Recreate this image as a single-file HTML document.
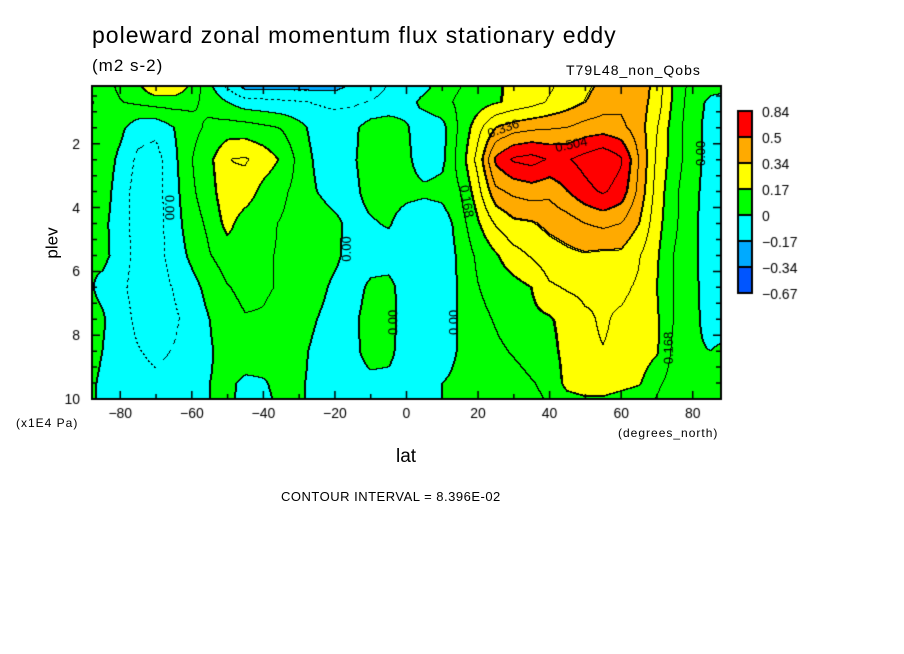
<!DOCTYPE html>
<html><head><meta charset="utf-8">
<style>
body{margin:0;background:#fff;}
#wrap{position:relative;width:904px;height:654px;overflow:hidden;background:#fff;font-family:"Liberation Sans",sans-serif;color:#000;}
.t{position:absolute;white-space:nowrap;}
canvas{position:absolute;left:0;top:0;}
</style></head>
<body>
<div id="wrap">
<canvas id="cv" width="904" height="654"></canvas>
<div class="t" style="left:92px;top:22px;font-size:23px;letter-spacing:1px">poleward zonal momentum flux stationary eddy</div>
<div class="t" style="left:92px;top:56px;font-size:17px;letter-spacing:1px">(m2 s-2)</div>
<div class="t" style="left:566px;top:62px;font-size:14px;letter-spacing:1px">T79L48_non_Qobs</div>
<div class="t" style="left:37px;top:233px;font-size:17px;transform:rotate(-90deg);transform-origin:center">plev</div>
<div class="t" style="left:16px;top:416px;font-size:12px;letter-spacing:1px">(x1E4 Pa)</div>
<div class="t" style="left:618px;top:426px;font-size:12px;letter-spacing:1px">(degrees_north)</div>
<div class="t" style="left:396px;top:446px;font-size:19px">lat</div>
<div class="t" style="left:281px;top:489px;font-size:13px;letter-spacing:0.5px">CONTOUR INTERVAL = 8.396E-02</div>
</div>
<script>
// latitude columns (deg north) and pressure rows (x1E4 Pa)
const lats = [-90,-85,-80,-75,-70,-65,-60,-55,-50,-45,-40,-35,-30,-25,-20,-15,-10,-5,0,5,10,15,20,25,30,35,40,45,50,55,60,65,70,75,80,85,90];
const plevs = [0.2,0.7,1.5,2.5,3.5,4.5,5.5,6.5,7.5,8.5,9.5,10];
const row0 = [0.05,0.05,0.1,0.15,0.25,0.25,0.15,0.02,-0.1,-0.2,-0.2,-0.2,-0.2,-0.2,-0.2,-0.15,-0.12,-0.08,-0.05,-0.03,0.05,0.08,0.12,0.15,0.2,0.22,0.24,0.28,0.32,0.36,0.4,0.4,0.3,0.15,0.05,0.03,0.02];
const row1 = [-0.03,0.03,0.08,0.1,0.12,0.12,0.1,0.06,0.0,-0.05,-0.06,-0.07,-0.08,-0.09,-0.1,-0.1,-0.08,-0.06,-0.04,0.03,0.06,0.1,0.13,0.16,0.19,0.22,0.26,0.3,0.34,0.38,0.4,0.38,0.3,0.14,0.04,-0.02,-0.03];
const row2 = [0.05,0.06,0.02,-0.05,-0.06,0.0,0.06,0.1,0.12,0.12,0.1,0.08,0.03,-0.04,-0.05,-0.02,0.04,0.05,0.01,-0.06,-0.03,0.1,0.22,0.34,0.38,0.4,0.41,0.42,0.45,0.46,0.44,0.38,0.26,0.12,0.04,-0.04,-0.05];
const row3 = [0.05,0.05,-0.02,-0.1,-0.12,-0.02,0.08,0.15,0.25,0.26,0.22,0.16,0.06,-0.02,-0.05,-0.01,0.04,0.05,0.02,-0.05,-0.02,0.12,0.28,0.52,0.6,0.62,0.58,0.58,0.62,0.66,0.6,0.42,0.24,0.12,0.04,-0.04,-0.05];
const row4 = [0.03,0.04,-0.04,-0.12,-0.12,-0.03,0.07,0.13,0.24,0.22,0.14,0.1,0.06,0.0,-0.04,-0.02,0.03,0.04,0.03,0.02,0.03,0.08,0.22,0.4,0.44,0.46,0.44,0.5,0.56,0.6,0.55,0.4,0.22,0.1,0.03,-0.05,-0.06];
const row5 = [0.02,0.02,-0.04,-0.12,-0.12,-0.04,0.05,0.1,0.2,0.12,0.1,0.08,0.06,0.05,0.02,-0.03,-0.01,0.01,-0.05,-0.07,-0.05,0.04,0.16,0.26,0.32,0.33,0.36,0.38,0.42,0.44,0.42,0.34,0.2,0.1,0.02,-0.05,-0.06];
const row6 = [0.0,0.02,-0.03,-0.12,-0.12,-0.05,0.02,0.08,0.12,0.1,0.09,0.08,0.07,0.05,0.02,-0.04,-0.05,-0.05,-0.06,-0.08,-0.06,0.02,0.1,0.16,0.22,0.26,0.3,0.32,0.33,0.32,0.32,0.26,0.18,0.08,0.02,-0.05,-0.06];
const row7 = [0.02,-0.02,-0.06,-0.12,-0.12,-0.08,-0.03,0.03,0.08,0.1,0.09,0.08,0.06,0.03,-0.02,-0.04,0.02,0.03,-0.05,-0.07,-0.05,0.01,0.08,0.12,0.14,0.17,0.24,0.26,0.27,0.26,0.27,0.24,0.17,0.08,0.02,-0.04,-0.05];
const row8 = [0.03,0.01,-0.05,-0.1,-0.12,-0.1,-0.05,0.0,0.06,0.08,0.08,0.07,0.04,0.0,-0.04,-0.02,0.04,0.03,-0.04,-0.06,-0.04,0.01,0.06,0.09,0.12,0.15,0.16,0.2,0.24,0.26,0.24,0.22,0.18,0.08,0.02,-0.03,-0.04];
const row9 = [0.03,0.0,-0.05,-0.08,-0.1,-0.08,-0.05,-0.01,0.04,0.06,0.06,0.05,0.02,-0.02,-0.04,-0.02,0.03,0.02,-0.04,-0.06,-0.04,0.01,0.05,0.07,0.09,0.11,0.14,0.2,0.24,0.25,0.24,0.22,0.18,0.06,0.01,0.0,0.02];
const row10 = [0.02,-0.01,-0.04,-0.06,-0.07,-0.06,-0.04,0.0,0.02,-0.02,-0.01,0.03,0.01,-0.02,-0.04,-0.03,-0.02,-0.02,-0.03,-0.03,0.0,0.02,0.04,0.05,0.06,0.08,0.1,0.2,0.22,0.22,0.2,0.18,0.1,0.05,0.02,0.02,0.02];
const row11 = [0.02,-0.01,-0.04,-0.05,-0.06,-0.05,-0.03,0.0,0.02,-0.03,-0.02,0.02,0.01,-0.02,-0.04,-0.03,-0.03,-0.03,-0.03,-0.03,0.0,0.02,0.03,0.04,0.05,0.07,0.09,0.14,0.16,0.16,0.14,0.12,0.08,0.04,0.02,0.02,0.02];
const grid = [row0,row1,row2,row3,row4,row5,row6,row7,row8,row9,row10,row11];
const levels = [-0.67,-0.34,-0.17,0,0.17,0.34,0.5,0.84];
const levelLabels = ["0.84","0.5","0.34","0.17","0","\u22120.17","\u22120.34","\u22120.67"];
const xTicks = [-80,-60,-40,-20,0,20,40,60,80];
const yTicks = [2,4,6,8,10];
const colors = ["#0055ff","#00aaff","#00ffff","#00ff00","#ffff00","#ffaa00","#ff0000"];
const interval = 0.08396;

const X0=92,X1=721,Y0=86,Y1=399;
const latMin=-87.9,latMax=87.9,pMin=0.19,pMax=10;
const xScale = l => X0+(l-latMin)/(latMax-latMin)*(X1-X0);
const yScale = p => Y0+(p-pMin)/(pMax-pMin)*(Y1-Y0);
const xInv = x => latMin+(x-X0)/(X1-X0)*(latMax-latMin);
const yInv = y => pMin+(y-Y0)/(Y1-Y0)*(pMax-pMin);

function sample(lat,p){
  let i=(lat-lats[0])/(lats[1]-lats[0]); i=Math.max(0,Math.min(lats.length-1.0001,i));
  let j=0; while(j<plevs.length-2 && p>plevs[j+1]) j++;
  let fy=(p-plevs[j])/(plevs[j+1]-plevs[j]); fy=Math.max(0,Math.min(1,fy));
  const i0=Math.floor(i), fx=i-i0;
  const a=grid[j][i0]*(1-fx)+grid[j][i0+1]*fx;
  const b=grid[j+1][i0]*(1-fx)+grid[j+1][i0+1]*fx;
  return a*(1-fy)+b*fy;
}
function cls(v){ let k=0; for(let n=1;n<levels.length-1;n++){ if(v>=levels[n]) k=n; } return k; }

const cv=document.getElementById('cv'), ctx=cv.getContext('2d');
const W=X1-X0, H=Y1-Y0;
const img=ctx.createImageData(W,H);
const V=[],C=[],K=[];
for(let y=0;y<H;y++){ for(let x=0;x<W;x++){ const v=sample(xInv(X0+x+0.5),yInv(Y0+y+0.5)); V.push(v); C.push(cls(v)); K.push(Math.floor(v/interval)); } }
function hex(h){return [parseInt(h.substr(1,2),16),parseInt(h.substr(3,2),16),parseInt(h.substr(5,2),16)];}
const rgb=colors.map(hex);
for(let y=0;y<H;y++){ for(let x=0;x<W;x++){
  const idx=y*W+x; let c=rgb[C[idx]];
  const r=x<W-1?idx+1:idx, d=y<H-1?idx+W:idx;
  if(C[idx]!==C[r]||C[idx]!==C[d]) c=[0,0,0];
  else if(x>0&&C[idx]!==C[idx-1]) c=[0,0,0];
  else if(K[idx]!==K[r]||K[idx]!==K[d]) { if(V[idx]>=0 || ((x+y)%6)<3) c=[0,0,0]; }
  const o=idx*4; img.data[o]=c[0];img.data[o+1]=c[1];img.data[o+2]=c[2];img.data[o+3]=255;
}}
ctx.putImageData(img,X0,Y0);
ctx.strokeStyle='#000'; ctx.lineWidth=2; ctx.strokeRect(X0,Y0,W,H);
ctx.lineWidth=1.5;
ctx.font='14px "Liberation Sans", sans-serif'; ctx.fillStyle='#000';
for(let l=-80;l<=80;l+=10){ const x=xScale(l), len=(l%20===0)?8:5;
  ctx.beginPath();ctx.moveTo(x,Y1);ctx.lineTo(x,Y1-len);ctx.moveTo(x,Y0);ctx.lineTo(x,Y0+len);ctx.stroke(); }
xTicks.forEach(l=>{ const s=(l<0?'\u2212':'')+Math.abs(l); ctx.textAlign='center'; ctx.fillText(s,xScale(l),Y1+19); });
for(let p=0.5;p<=10;p+=0.5){ const y=yScale(p), len=(p%2===0)?8:5;
  ctx.beginPath();ctx.moveTo(X0,y);ctx.lineTo(X0+len,y);ctx.moveTo(X1,y);ctx.lineTo(X1-len,y);ctx.stroke(); }
yTicks.forEach(p=>{ ctx.textAlign='right'; ctx.fillText(String(p),X0-12,yScale(p)+5); });
const LX=738,LY=111,LH=26;
for(let n=0;n<7;n++){ ctx.fillStyle=colors[6-n]; ctx.fillRect(LX,LY+n*LH,14,LH); }
ctx.strokeStyle='#000'; ctx.lineWidth=2;
for(let n=0;n<7;n++){ ctx.strokeRect(LX,LY+n*LH,14,LH); }
ctx.fillStyle='#000'; ctx.textAlign='left';
levelLabels.forEach((s,n)=>{ ctx.fillText(s,LX+24,LY+n*LH+6); });
ctx.font='13px "Liberation Sans", sans-serif';
function clab(s,lat,p,rot){ ctx.save(); ctx.translate(xScale(lat),yScale(p)); ctx.rotate(rot); ctx.textAlign='center'; ctx.fillText(s,0,5); ctx.restore(); }
clab('0.336',27,1.5,-0.35); clab('0.504',46,2.0,-0.2); clab('0.168',17,3.8,1.4);
clab('0.00',82,2.3,-1.57); clab('0.00',-66,4.0,1.57); clab('0.00',-17,5.3,-1.57);
clab('0.00',-4,7.6,-1.57); clab('0.00',13,7.6,-1.57); clab('0.168',73,8.4,-1.57);
</script>
</body></html>
